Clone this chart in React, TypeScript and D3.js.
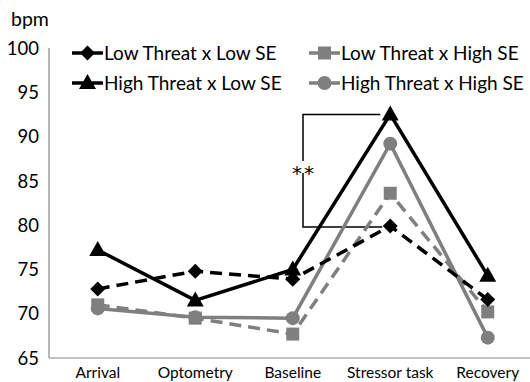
import React from "react";
import * as d3 from "d3";

// Heart rate (bpm) across the session phases for each threat x self-efficacy group
const phases = ["Arrival", "Optometry", "Baseline", "Stressor task", "Recovery"];
const lowThreatLowSE = [72.8, 74.8, 73.9, 79.9, 71.6];
const highThreatLowSE = [77.2, 71.5, 75.0, 92.5, 74.3];
const lowThreatHighSE = [71.0, 69.5, 67.7, 83.6, 70.2];
const highThreatHighSE = [70.6, 69.6, 69.5, 89.2, 67.3];
const yTicks = [65, 70, 75, 80, 85, 90, 95, 100];

type Marker = "diamond" | "triangle" | "square" | "circle";
interface Series {
  name: string;
  values: number[];
  color: string;
  dashed: boolean;
  marker: Marker;
}

const BLACK = "#000000";
const GREY = "#7f7f7f";

const series: Series[] = [
  { name: "Low Threat x High SE", values: lowThreatHighSE, color: GREY, dashed: true, marker: "square" },
  { name: "High Threat x High SE", values: highThreatHighSE, color: GREY, dashed: false, marker: "circle" },
  { name: "Low Threat x Low SE", values: lowThreatLowSE, color: BLACK, dashed: true, marker: "diamond" },
  { name: "High Threat x Low SE", values: highThreatLowSE, color: BLACK, dashed: false, marker: "triangle" },
];

const legendOrder = [
  { s: series[2], col: 0, row: 0 },
  { s: series[0], col: 1, row: 0 },
  { s: series[3], col: 0, row: 1 },
  { s: series[1], col: 1, row: 1 },
];

const W = 530;
const H = 382;
const FONT = "Lato, 'Open Sans', sans-serif";

const x = d3.scaleBand<string>().domain(phases).range([49, 49 + 5 * 97.5]);
const y = d3.scaleLinear().domain([65, 100]).range([358, 48]);

function markerPath(m: Marker, cx: number, cy: number): string {
  if (m === "diamond") {
    const r = 7.5;
    return `M${cx},${cy - r}L${cx + r},${cy}L${cx},${cy + r}L${cx - r},${cy}Z`;
  }
  if (m === "triangle") {
    const h = 15, hw = 8.5;
    return `M${cx},${cy - h * 0.6}L${cx + hw},${cy + h * 0.4}L${cx - hw},${cy + h * 0.4}Z`;
  }
  const r = 6.5;
  return `M${cx - r},${cy - r}h${2 * r}v${2 * r}h${-2 * r}Z`;
}

function MarkerShape({ m, cx, cy, color }: { m: Marker; cx: number; cy: number; color: string }) {
  if (m === "circle") return <circle cx={cx} cy={cy} r={7} fill={color} />;
  return <path d={markerPath(m, cx, cy)} fill={color} />;
}

export default function App() {
  const cx = (p: string) => (x(p) ?? 0) + x.bandwidth() / 2;
  const line = d3
    .line<number>()
    .x((_, i) => cx(phases[i]))
    .y((v) => y(v));

  // significance bracket between Baseline and Stressor task
  const bx = 303;
  const bTop = y(92.5);
  const bBottom = y(79.8);
  const starY = 166;

  return (
    <svg width={W} height={H} style={{ position: "absolute", left: 0, top: 0, background: "#fff" }}>
      <rect width={W} height={H} fill="#fff" />
      <text x={11} y={26} fontFamily={FONT} fontSize={19.5} fill="#000">bpm</text>

      {/* axes */}
      <line x1={49} x2={49} y1={y(100)} y2={y(65)} stroke="#868686" strokeWidth={1.2} />
      <line x1={49} x2={W} y1={y(65)} y2={y(65)} stroke="#868686" strokeWidth={1.2} />
      {yTicks.map((t) => (
        <text key={t} x={39} y={y(t)} dy="0.36em" textAnchor="end" fontFamily={FONT} fontSize={18.5} fill="#000">
          {t}
        </text>
      ))}
      {phases.map((p) => (
        <text key={p} x={cx(p)} y={378} textAnchor="middle" fontFamily={FONT} fontSize={15.5} fill="#000">
          {p}
        </text>
      ))}

      {/* bracket */}
      <polyline
        points={`${cx("Stressor task") - 10},${bTop} ${bx},${bTop} ${bx},${bBottom} ${cx("Stressor task") - 8},${bBottom}`}
        fill="none"
        stroke="#000"
        strokeWidth={1.5}
      />
      <rect x={bx - 10} y={starY - 5} width={21} height={12} fill="#fff" />
      <text x={bx + 1} y={starY} dy="0.7em" textAnchor="middle" letterSpacing={2} fontFamily="'DejaVu Sans', sans-serif" fontSize={20} fill="#000">
        **
      </text>

      {/* series lines and markers */}
      {series.map((s) => (
        <g key={s.name}>
          <path
            d={line(s.values) || ""}
            fill="none"
            stroke={s.color}
            strokeWidth={3.5}
            strokeDasharray={s.dashed ? "12,7" : undefined}
          />
          {s.values.map((v, i) => (
            <MarkerShape key={i} m={s.marker} cx={cx(phases[i])} cy={y(v)} color={s.color} />
          ))}
        </g>
      ))}

      {/* legend */}
      {legendOrder.map(({ s, col, row }) => {
        const lx = col === 0 ? 72 : 309;
        const ly = row === 0 ? 53 : 83;
        return (
          <g key={s.name}>
            <line x1={lx} x2={lx + 31} y1={ly} y2={ly} stroke={s.color} strokeWidth={3.5} />
            <MarkerShape m={s.marker} cx={lx + 15.5} cy={ly} color={s.color} />
            <text x={lx + 32} y={ly} dy="0.36em" fontFamily={FONT} fontSize={19} fill="#000">
              {s.name}
            </text>
          </g>
        );
      })}
    </svg>
  );
}
